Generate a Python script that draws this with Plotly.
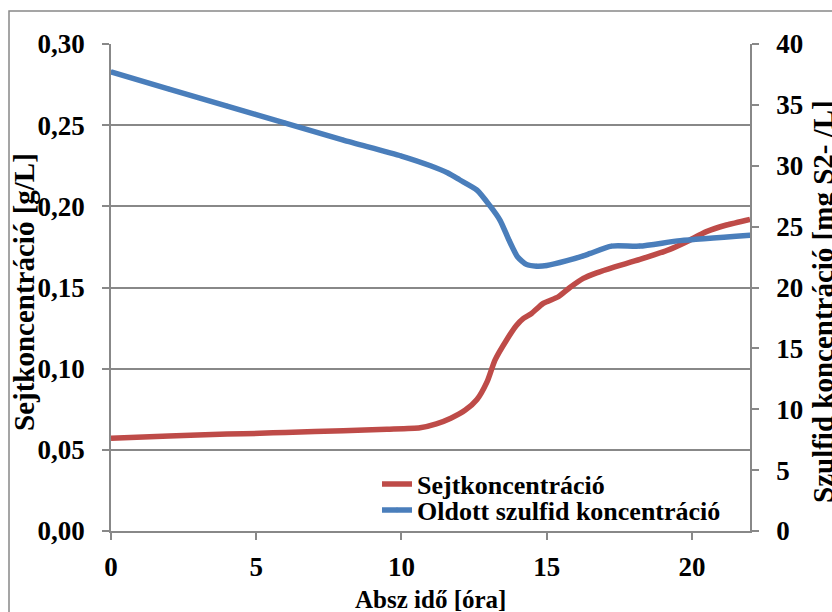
import plotly.graph_objects as go

# Data
red_time = [0, 2, 4, 5.13, 6, 8, 9.5, 10.64, 11.2, 11.7, 12.2, 12.6, 12.95, 13.22, 13.62,
            13.95, 14.2, 14.48, 14.88, 15.4, 15.8, 16.26, 16.72, 17.29, 18.21, 19.24,
            19.82, 20.5, 21.19, 22.0]
red_cell = [0.0571, 0.0585, 0.0597, 0.0602, 0.0607, 0.0618, 0.0627, 0.0636, 0.066, 0.0695,
            0.0745, 0.081, 0.092, 0.1053, 0.1177, 0.1265, 0.131, 0.134, 0.1402, 0.1443,
            0.150, 0.1556, 0.159, 0.1624, 0.1673, 0.1735, 0.1782, 0.1844, 0.1885, 0.192]

blue_time = [0, 2, 4, 6, 8, 10, 11, 11.6, 12.0, 12.6, 13.05, 13.4, 13.7, 14.0, 14.3, 14.65,
             15.0, 15.7, 16.26, 16.5, 17.23, 18.2, 19.6, 22.0]
blue_sulfide = [37.7, 36.3, 34.9, 33.5, 32.1, 30.8, 30.0, 29.4, 28.85, 28.0, 26.7, 25.5,
                23.9, 22.5, 21.9, 21.75, 21.8, 22.2, 22.6, 22.8, 23.4, 23.4, 23.85, 24.3]

x_ticks = [0, 5, 10, 15, 20]
left_ticks = [0, 0.05, 0.10, 0.15, 0.20, 0.25, 0.30]
right_ticks = [0, 5, 10, 15, 20, 25, 30, 35, 40]

name_red = "Sejtkoncentráció"
name_blue = "Oldott szulfid koncentráció"
x_title = "Absz idő [óra]"
y_title = "Sejtkoncentráció [g/L]"
y2_title = "Szulfid koncentráció [mg S2- /L]"

RED = "#BE4B48"
BLUE = "#4A7EBB"
GRID = "#888888"
FONT = "Liberation Serif"

W, H = 832, 612
L, R, T, B = 111, 82, 44, 81
PW = W - L - R
PH = H - T - B

def px_x(p):
    return (p - L) / PW

def px_y(p):
    return (H - B - p) / PH

fig = go.Figure()
fig.add_trace(go.Scatter(
    x=red_time, y=red_cell, name=name_red, mode="lines",
    line=dict(color=RED, width=5.5, shape="spline", smoothing=0.6),
    legend="legend", yaxis="y"))
fig.add_trace(go.Scatter(
    x=blue_time, y=blue_sulfide, name=name_blue, mode="lines+markers",
    line=dict(color=BLUE, width=5.5, shape="spline", smoothing=0.6),
    marker=dict(symbol="diamond", size=4, color=BLUE),
    legend="legend2", yaxis="y2"))

tickfont = dict(family=FONT, size=27, color="black", weight=700)
titlefont = dict(family=FONT, size=26, color="black", weight=700)

fig.update_layout(
    width=W, height=H,
    margin=dict(l=L, r=R, t=T, b=B, pad=0),
    paper_bgcolor="white", plot_bgcolor="white",
    separators=", ",
    showlegend=True,
    xaxis=dict(range=[0, 22], tickvals=x_ticks, ticks="outside", ticklen=7, tickwidth=1.5,
               tickcolor=GRID, showline=True, linecolor=GRID, linewidth=1.5,
               showgrid=False, zeroline=False, tickfont=tickfont, ticklabelstandoff=4),
    yaxis=dict(range=[0, 0.30], tickvals=left_ticks, tickformat=".2f", ticks="outside",
               ticklen=7, tickwidth=1.5, tickcolor=GRID, showline=True, linecolor=GRID,
               linewidth=1.5, showgrid=True, gridcolor=GRID, gridwidth=1.5,
               zeroline=False, tickfont=tickfont, ticklabelstandoff=12),
    yaxis2=dict(range=[0, 40], tickvals=right_ticks, overlaying="y", side="right",
                ticks="outside", ticklen=7, tickwidth=1.5, tickcolor=GRID, showline=True,
                linecolor=GRID, linewidth=1.5, showgrid=False, zeroline=False,
                tickfont=tickfont, ticklabelstandoff=12),
    legend=dict(x=px_x(377), y=px_y(484), xanchor="left", yanchor="middle",
                bgcolor="rgba(0,0,0,0)", font=titlefont, itemwidth=30),
    legend2=dict(x=px_x(377), y=px_y(510), xanchor="left", yanchor="middle",
                 bgcolor="rgba(0,0,0,0)", font=titlefont, itemwidth=30),
    annotations=[
        dict(text=x_title, x=0.5, y=px_y(599), xref="paper", yref="paper",
             showarrow=False, font=dict(family=FONT, size=25, color="black", weight=700),
             xanchor="center", yanchor="middle"),
        dict(text=y_title, x=px_x(24), y=px_y(292), xref="paper", yref="paper",
             showarrow=False, font=dict(family=FONT, size=29, color="black", weight=700),
             textangle=-90, xanchor="center", yanchor="middle"),
        dict(text=y2_title, x=px_x(823), y=px_y(302), xref="paper", yref="paper",
             showarrow=False, font=dict(family=FONT, size=29, color="black", weight=700),
             textangle=-90, xanchor="center", yanchor="middle"),
    ],
    shapes=[dict(type="rect", xref="paper", yref="paper",
                 x0=px_x(9), y0=px_y(11), x1=px_x(845), y1=px_y(625),
                 line=dict(color=GRID, width=1.5), layer="below")],
)

fig.write_html("out.html")
